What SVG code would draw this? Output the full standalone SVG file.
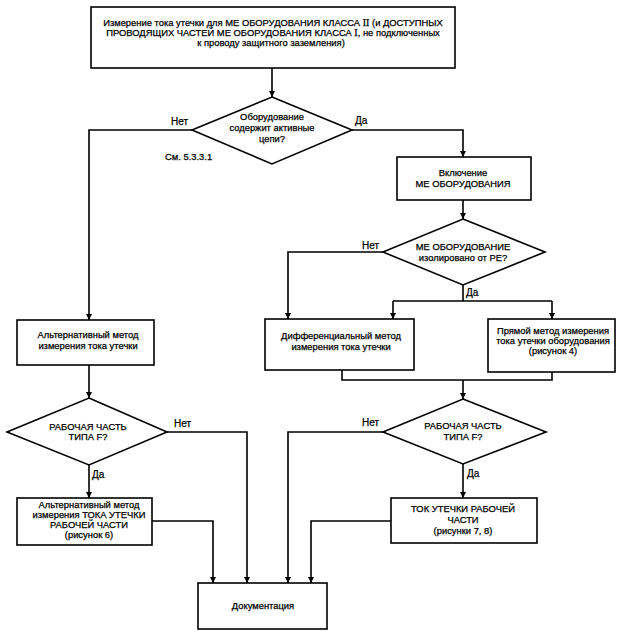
<svg xmlns="http://www.w3.org/2000/svg" width="624" height="643" viewBox="0 0 624 643">
<defs>
<marker id="ah" viewBox="0 0 10 10" refX="10" refY="5" markerWidth="6" markerHeight="7" markerUnits="userSpaceOnUse" orient="auto">
<path d="M0,0 L10,5 L0,10 z" fill="#000"/>
</marker>
<style>
.box{fill:#fff;stroke:#000;stroke-width:1.6}
.t{font-family:"Liberation Sans",Arial,sans-serif;font-size:9.4px;fill:#000;stroke:#000;stroke-width:0.25;text-anchor:middle}
.l{font-family:"Liberation Sans",Arial,sans-serif;font-size:10px;fill:#000;stroke:#000;stroke-width:0.25}
.r{font-family:"Liberation Serif","Times New Roman",serif;font-size:10px}
.c{fill:none;stroke:#000;stroke-width:1.6}
.a{fill:none;stroke:#000;stroke-width:1.6;marker-end:url(#ah)}
</style>
</defs>
<rect width="624" height="643" fill="#fff"/>
<g id="connectors">
<path class="a" d="M272,68 V97"/>
<path class="a" d="M192,130 H89 V320"/>
<path class="a" d="M352,130 H463 V157"/>
<path class="a" d="M463,200 V219"/>
<path class="a" d="M383,252 H288 V319"/>
<path class="c" d="M463,285 V301 M393,301 H552"/>
<path class="a" d="M393,301 V319"/>
<path class="a" d="M552,301 V319"/>
<path class="c" d="M342,370 V380 H552 V372"/>
<path class="a" d="M463,380 V399"/>
<path class="a" d="M383,432 H288 V583"/>
<path class="a" d="M463,464 V498"/>
<path class="a" d="M391,521 H311 V583"/>
<path class="a" d="M89,365 V398"/>
<path class="a" d="M167,432 H247 V583"/>
<path class="a" d="M89,465 V498"/>
<path class="a" d="M152,521 H213 V583"/>
</g>
<g id="start">
<rect class="box" x="91" y="7" width="364" height="61"/>
<text class="t" x="273" y="26">Измерение тока утечки для МЕ ОБОРУДОВАНИЯ КЛАССА <tspan class="r">II</tspan> (и ДОСТУПНЫХ</text>
<text class="t" x="273" y="36">ПРОВОДЯЩИХ ЧАСТЕЙ МЕ ОБОРУДОВАНИЯ КЛАССА <tspan class="r">I</tspan>, не подключенных</text>
<text class="t" x="271" y="46">к проводу защитного заземления)</text>
</g>
<g id="d1">
<polygon class="box" points="272,97 352,130 272,164 192,130"/>
<text class="t" x="272" y="120">Оборудование</text>
<text class="t" x="272" y="131">содержит активные</text>
<text class="t" x="272" y="142">цепи?</text>
<text class="l" x="171" y="125">Нет</text>
<text class="l" x="355" y="124">Да</text>
<text class="l" x="165" y="160" style="font-size:9.4px">См. 5.3.3.1</text>
</g>
<g id="on">
<rect class="box" x="397" y="157" width="134" height="43"/>
<text class="t" x="463" y="176">Включение</text>
<text class="t" x="463" y="187">МЕ ОБОРУДОВАНИЯ</text>
</g>
<g id="d2">
<polygon class="box" points="463,219 545,252 463,285 383,252"/>
<text class="t" x="463" y="250">МЕ ОБОРУДОВАНИЕ</text>
<text class="t" x="463" y="261">изолировано от PE?</text>
<text class="l" x="362" y="249">Нет</text>
<text class="l" x="466" y="296">Да</text>
</g>
<g id="alt1">
<rect class="box" x="17" y="320" width="137" height="45"/>
<text class="t" x="88" y="338">Альтернативный метод</text>
<text class="t" x="88" y="349">измерения тока утечки</text>
</g>
<g id="diff">
<rect class="box" x="265" y="319" width="149" height="51"/>
<text class="t" x="341" y="339">Дифференциальный метод</text>
<text class="t" x="341" y="350">измерения тока утечки</text>
</g>
<g id="direct">
<rect class="box" x="488" y="319" width="127" height="53"/>
<text class="t" x="553" y="334">Прямой метод измерения</text>
<text class="t" x="553" y="344">тока утечки оборудования</text>
<text class="t" x="553" y="354">(рисунок 4)</text>
</g>
<g id="d4">
<polygon class="box" points="89,398 167,432 89,465 7,432"/>
<text class="t" x="88" y="430">РАБОЧАЯ ЧАСТЬ</text>
<text class="t" x="88" y="440">ТИПА F?</text>
<text class="l" x="174" y="427">Нет</text>
<text class="l" x="92" y="478">Да</text>
</g>
<g id="d3">
<polygon class="box" points="463,399 546,432 463,464 383,432"/>
<text class="t" x="463" y="429">РАБОЧАЯ ЧАСТЬ</text>
<text class="t" x="463" y="440">ТИПА F?</text>
<text class="l" x="362" y="426">Нет</text>
<text class="l" x="467" y="477">Да</text>
</g>
<g id="alt2">
<rect class="box" x="17" y="498" width="135" height="47"/>
<text class="t" x="89" y="508">Альтернативный метод</text>
<text class="t" x="89" y="518">измерения ТОКА УТЕЧКИ</text>
<text class="t" x="89" y="528">РАБОЧЕЙ ЧАСТИ</text>
<text class="t" x="89" y="538">(рисунок 6)</text>
</g>
<g id="tok">
<rect class="box" x="391" y="498" width="146" height="45"/>
<text class="t" x="463" y="512">ТОК УТЕЧКИ РАБОЧЕЙ</text>
<text class="t" x="463" y="523">ЧАСТИ</text>
<text class="t" x="463" y="534">(рисунки 7, 8)</text>
</g>
<g id="doc">
<rect class="box" x="198" y="583" width="129" height="46"/>
<text class="t" x="263" y="609">Документация</text>
</g>
</svg>
